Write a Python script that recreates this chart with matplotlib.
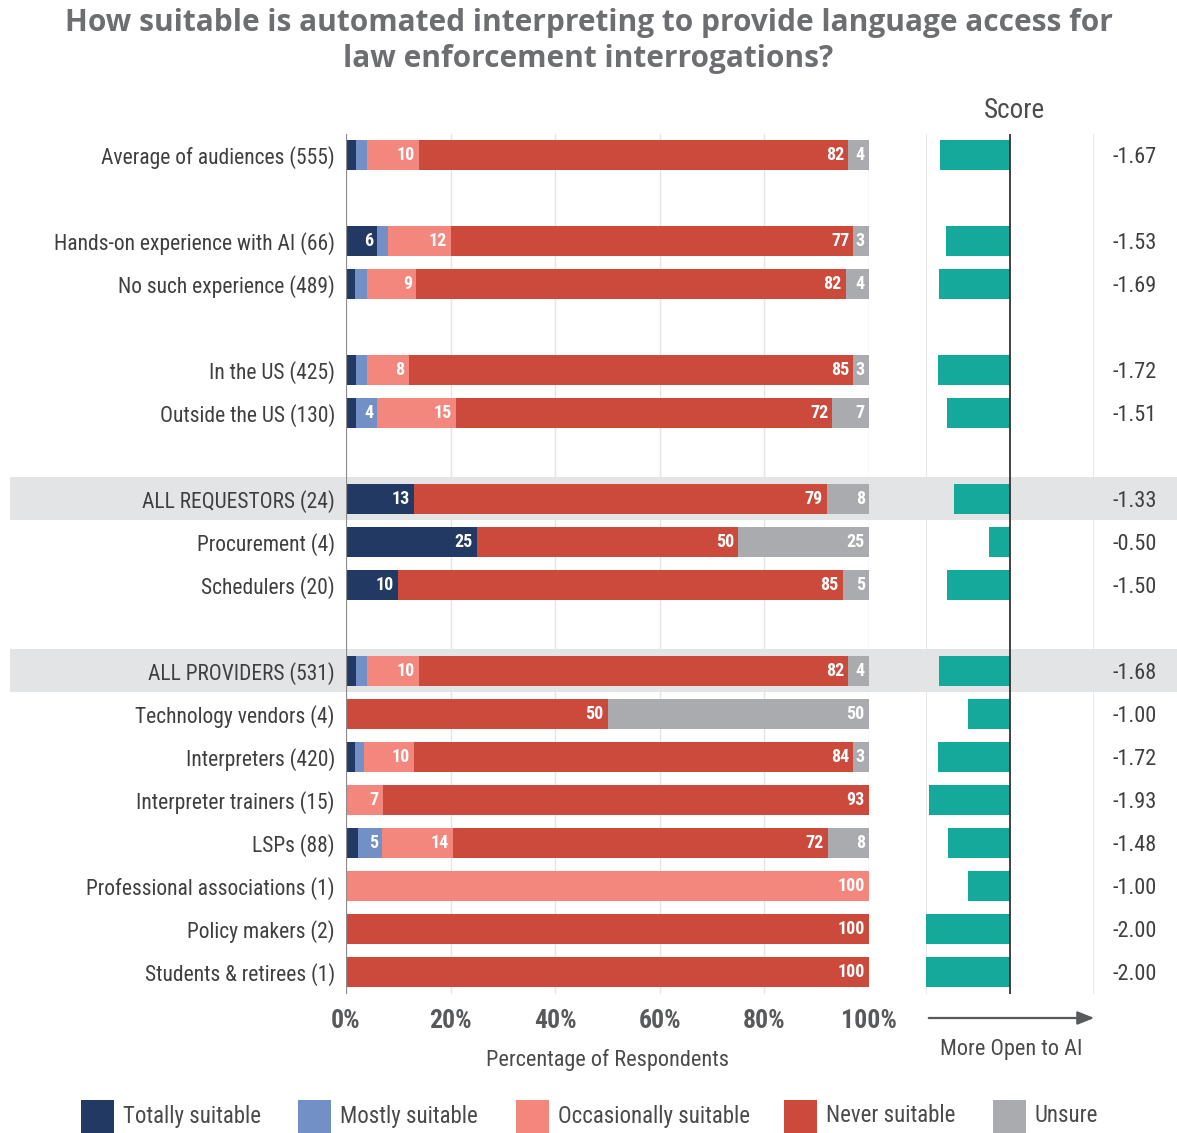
import matplotlib
matplotlib.use("Agg")
import matplotlib.pyplot as plt
from matplotlib.patches import Rectangle, FancyArrowPatch
from matplotlib.transforms import blended_transform_factory
import numpy as np

COND = ["Roboto Condensed", "Roboto", "DejaVu Sans"]
plt.rcParams["font.family"] = COND

title = "How suitable is automated interpreting to provide language access for\nlaw enforcement interrogations?"

categories = [
    "Average of audiences (555)",
    "Hands-on experience with AI (66)",
    "No such experience (489)",
    "In the US (425)",
    "Outside the US (130)",
    "ALL REQUESTORS (24)",
    "Procurement (4)",
    "Schedulers (20)",
    "ALL PROVIDERS (531)",
    "Technology vendors (4)",
    "Interpreters (420)",
    "Interpreter trainers (15)",
    "LSPs (88)",
    "Professional associations (1)",
    "Policy makers (2)",
    "Students & retirees (1)",
]
# row slots (gaps separate the groups)
row_pos = [0, 2, 3, 5, 6, 8, 9, 10, 12, 13, 14, 15, 16, 17, 18, 19]
highlight_rows = ["ALL REQUESTORS (24)", "ALL PROVIDERS (531)"]

series_names = ["Totally suitable", "Mostly suitable", "Occasionally suitable",
                "Never suitable", "Unsure"]
series_colors = ["#223963", "#7290c6", "#f3877d", "#cb4a3b", "#aaabae"]

totally      = [2, 6, 1.8, 2, 2, 13, 25, 10, 2, 0, 1.7, 0, 2.3, 0, 0, 0]
mostly       = [2, 2, 2.2, 2, 4, 0, 0, 0, 2, 0, 1.7, 0, 4.6, 0, 0, 0]
occasionally = [10, 12, 9.4, 8, 15, 0, 0, 0, 10, 0, 9.6, 7, 13.6, 100, 0, 0]
never        = [82, 77, 82.2, 85, 72, 79, 50, 85, 82, 50, 84, 93, 71.6, 0, 100, 100]
unsure       = [4, 3, 4.4, 3, 7, 8, 25, 5, 4, 50, 3, 0, 7.9, 0, 0, 0]

scores = [-1.67, -1.53, -1.69, -1.72, -1.51, -1.33, -0.50, -1.50,
          -1.68, -1.00, -1.72, -1.93, -1.48, -1.00, -2.00, -2.00]

pct_ticks = [0, 20, 40, 60, 80, 100]
pct_tick_labels = ["0%", "20%", "40%", "60%", "80%", "100%"]

W, H = 1177, 1133
fig = plt.figure(figsize=(W / 100, H / 100), dpi=100)
fig.patch.set_facecolor("white")


def fx(x):
    return x / W


def fy(y):
    return 1 - y / H


top_px, bot_px = 133.5, 993.5
ax = fig.add_axes([fx(346), fy(bot_px), fx(869) - fx(346), fy(top_px) - fy(bot_px)])
axs = fig.add_axes([fx(926), fy(bot_px), fx(1094) - fx(926), fy(top_px) - fy(bot_px)])
for a in (ax, axs):
    a.set_facecolor("none")
    a.set_ylim(19.5, -0.5)
    for s in a.spines.values():
        s.set_visible(False)

# highlighted group rows
band_tf = blended_transform_factory(fig.transFigure, ax.transData)
for name in highlight_rows:
    r = row_pos[categories.index(name)]
    fig.patches.append(Rectangle((fx(10), r - 0.5), 1 - fx(10), 1.0,
                                 transform=band_tf, facecolor="#e3e4e6",
                                 edgecolor="none", zorder=-5))

# stacked percentage bars
series = [totally, mostly, occasionally, never, unsure]
left = np.zeros(len(categories))
bar_h = 0.72
for vals, color in zip(series, series_colors):
    vals = np.array(vals, dtype=float)
    ax.barh(row_pos, vals, left=left, height=bar_h, color=color,
            edgecolor="none", zorder=3)
    for r, v, l in zip(row_pos, vals, left):
        if v >= 3:
            ax.text(l + v - 0.8, r, f"{round(v)}", ha="right", va="center",
                    color="white", fontsize=13, fontweight="bold", zorder=4)
    left += vals

ax.set_xlim(0, 100)
ax.set_xticks(pct_ticks)
ax.set_xticklabels(pct_tick_labels, fontsize=18.5, fontweight="bold", color="#58595b")
ax.tick_params(axis="x", length=0, pad=11)
ax.set_yticks(row_pos)
ax.set_yticklabels(categories, fontsize=15.5, color="#3f3f3f")
ax.tick_params(axis="y", length=0, pad=8)
for t in pct_ticks[1:]:
    ax.axvline(t, color="#e4e4e4", lw=1, zorder=1)
ax.axvline(0, color="#8c8c8c", lw=1.6, zorder=5)
ax.set_xlabel("Percentage of Respondents", fontsize=16, color="#4a4a4a", labelpad=12)

# score panel
axs.barh(row_pos, scores, height=bar_h, color="#15a99b", edgecolor="none", zorder=3)
axs.set_xlim(-2, 2)
axs.set_xticks([])
axs.set_yticks([])
axs.axvline(-2, color="#e2e2e2", lw=1.2, zorder=1)
axs.axvline(2, color="#e2e2e2", lw=1.2, zorder=1)
axs.axvline(0, color="#222222", lw=1.2, zorder=4)

score_tf = blended_transform_factory(fig.transFigure, ax.transData)
for r, s in zip(row_pos, scores):
    ax.text(fx(1135), r, f"{s:.2f}", transform=score_tf, ha="center",
            va="center_baseline", fontsize=16, color="#3f3f3f")

fig.text(fx(1014), fy(110), "Score", ha="center", va="center",
         fontsize=19.5, color="#4d4d4f")

# direction arrow below the score panel
fig.add_artist(FancyArrowPatch(
    (fx(926), fy(1018)), (fx(1097), fy(1018)), transform=fig.transFigure,
    arrowstyle="-|>,head_length=10,head_width=4", mutation_scale=1,
    color="#58595b", lw=1.6))
fig.text(fx(1011), fy(1049), "More Open to AI", ha="center", va="center",
         fontsize=16, color="#4a4a4a")

fig.text(0.5, fy(41), title, ha="center", va="center", fontsize=21.5,
         fontweight="bold", color="#6d6e71", family=["Open Sans", "DejaVu Sans"],
         linespacing=1.22)

# legend
legend_x = [81, 298, 516, 784, 993]
for x, name, color in zip(legend_x, series_names, series_colors):
    fig.patches.append(Rectangle((fx(x), fy(1133)), fx(33), 33 / H,
                                 transform=fig.transFigure, facecolor=color,
                                 edgecolor="none"))
    fig.text(fx(x + 42), fy(1116), name, ha="left", va="center",
             fontsize=16.5, color="#4a4a4a")

fig.savefig("out.png", dpi=100, facecolor="white")
